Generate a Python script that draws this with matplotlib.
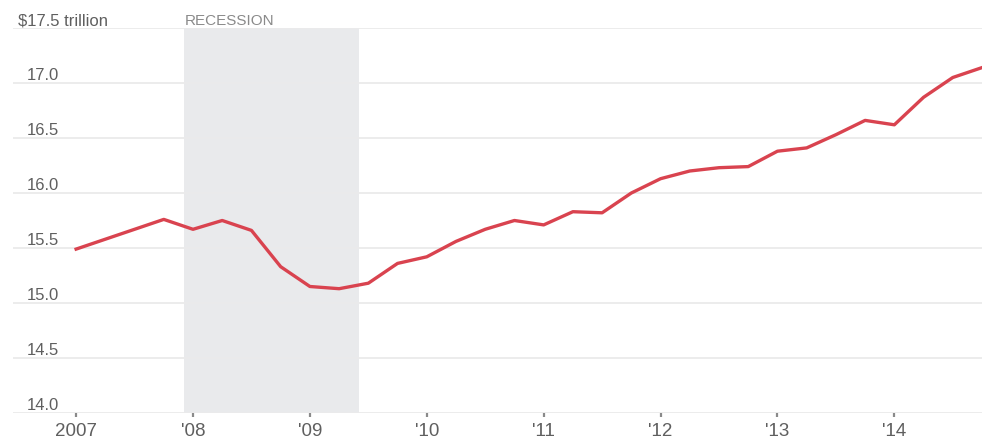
import numpy as np
import matplotlib.pyplot as plt

plt.rcParams['font.family'] = ['Liberation Sans Narrow', 'Liberation Sans', 'DejaVu Sans']

## DATOS (trimestrales, billones de dolares)
quarters = [2007 + k / 4 for k in range(32)]
gdp = [15.49, 15.58, 15.67, 15.76, 15.67, 15.75, 15.66, 15.33,
       15.15, 15.13, 15.18, 15.36, 15.42, 15.56, 15.67, 15.75,
       15.71, 15.83, 15.82, 16.00, 16.13, 16.20, 16.23, 16.24,
       16.38, 16.41, 16.53, 16.66, 16.62, 16.87, 17.05, 17.14]

year_ticks = [2007, 2008, 2009, 2010, 2011, 2012, 2013, 2014]
year_labels = ['2007', "'08", "'09", "'10", "'11", "'12", "'13", "'14"]

y_ticks = [14.0, 14.5, 15.0, 15.5, 16.0, 16.5, 17.0, 17.5]
y_labels = ['14.0', '14.5', '15.0', '15.5', '16.0', '16.5', '17.0', '$17.5 trillion']

recession = (2007.92, 2009.42)

## GRAFICO
fig = plt.figure(figsize=(9.82, 4.47), dpi=100)
ax = fig.add_axes([13 / 982, 1 - 413 / 447, 969 / 982, 385 / 447])

ax.axvspan(recession[0], recession[1], color='#e9eaec', lw=0, zorder=0)
ax.text(recession[0] + 0.01, 17.5 + 0.03, 'RECESSION', fontsize=11,
        color='#8a8a8a', ha='left', va='baseline')

for v in y_ticks:
    ax.axhline(v, color='#ebebeb', lw=1.3, zorder=1)

ax.plot(quarters, gdp, color='#d9434f', lw=2.4, zorder=3)

ax.set_xlim(2006.46, 2014.75)
ax.set_ylim(14.0, 17.5)

## etiquetas eje y encima de la linea
for v, lab in zip(y_ticks, y_labels):
    xo = 5 / 969 if lab.startswith('$') else 14 / 969   ## el $ sobresale a la izquierda
    ax.text(xo, v + 0.025, lab, transform=ax.get_yaxis_transform(),
            fontsize=12, color='#5f5f5f', ha='left', va='baseline', clip_on=False)

ax.set_yticks([])
ax.set_xticks(year_ticks)
ax.set_xticklabels(year_labels, fontsize=13.5, color='#5f5f5f')
ax.tick_params(axis='x', length=3, width=1.6, color='#8a8a8a', pad=4)

for s in ax.spines.values():
    s.set_visible(False)

plt.savefig('out.png', dpi=100)
